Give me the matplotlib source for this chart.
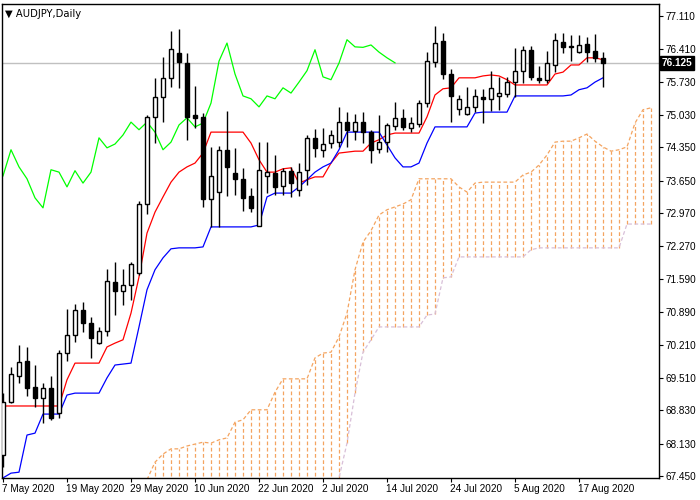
import numpy as np
import matplotlib
matplotlib.use("Agg")
import matplotlib.pyplot as plt
import matplotlib.transforms as mt

opens = [67.89,69.00,69.55,69.86,69.32,69.09,69.30,68.77,70.03,70.41,70.94,70.66,70.24,70.50,71.52,71.33,71.46,71.71,73.16,74.99,
         75.41,75.81,76.33,76.12,75.03,74.99,73.27,73.41,74.30,73.81,73.69,73.33,72.70,73.75,73.81,73.54,73.86,73.46,73.88,74.55,
         74.30,74.44,74.46,74.88,74.70,74.88,74.67,74.32,74.46,74.80,74.97,74.76,74.84,75.28,76.14,76.58,75.89,75.16,75.05,75.20,
         75.41,75.37,75.43,75.47,75.72,75.96,76.40,75.81,75.77,76.08,76.56,76.46,76.35,76.52,76.38,76.23]
highs = [69.19,69.74,70.20,70.16,69.78,69.40,69.55,70.10,70.96,71.06,71.10,70.79,70.58,71.80,71.94,71.80,71.94,73.22,75.03,75.81,
         76.25,76.80,76.84,76.33,75.64,75.07,74.36,74.38,75.12,74.34,73.92,73.50,74.46,74.46,74.19,73.92,73.94,74.02,74.61,74.74,
         74.76,74.72,75.20,75.09,75.05,75.09,74.72,75.03,74.86,75.30,75.16,74.99,75.35,76.35,76.90,76.75,75.99,75.45,75.62,75.58,
         75.58,75.96,75.83,75.83,76.44,76.48,76.48,76.06,76.38,76.75,76.75,76.71,76.71,76.67,76.73,76.35]
lows = [67.64,68.98,69.40,69.13,68.90,68.56,68.63,68.67,69.87,70.26,70.47,69.93,70.22,70.39,70.83,71.04,71.15,71.67,72.95,74.44,
        74.88,75.62,75.60,74.51,74.76,73.10,72.68,72.68,73.33,73.35,73.02,72.99,72.70,73.39,73.35,73.35,73.31,73.33,73.56,74.15,
        74.15,74.34,74.36,74.36,74.51,74.44,74.02,74.23,74.25,74.72,74.72,74.67,74.78,75.20,76.04,75.79,74.88,75.03,75.03,75.09,
        74.86,75.12,75.14,75.41,75.41,75.70,75.77,75.70,75.70,75.93,76.33,76.16,76.33,76.14,76.14,75.62]
closes = [69.00,69.59,69.84,69.30,69.09,69.30,68.67,70.03,70.41,70.94,70.66,70.35,70.50,71.55,71.33,71.46,71.90,73.16,74.99,75.41,
          75.81,76.42,76.14,74.99,74.97,73.27,73.75,74.30,73.94,73.69,73.29,73.08,73.88,73.83,73.52,73.86,73.60,73.83,74.55,74.34,
          74.42,74.61,74.88,74.72,74.88,74.67,74.30,74.46,74.82,74.97,74.78,74.86,75.28,76.16,76.54,75.89,75.43,75.37,75.20,75.43,
          75.37,75.60,75.49,75.72,75.96,76.40,75.83,75.77,76.12,76.61,76.46,76.45,76.50,76.35,76.23,76.125]
tenkan = [68.92]*8 + [69.47,69.82,69.82,69.82,69.82,70.16,70.24,70.31,70.87,71.63,72.55,72.99,73.31,73.62,73.83,73.94,74.02,74.23,
          74.67,74.67,74.67,74.67,74.67,74.44,74.09,73.83,73.83,73.90,73.92,73.60,73.67,73.73,73.73,74.02,74.23,74.25,74.27,74.27,
          74.44,74.51,74.61,74.65,74.65,74.65,74.65,74.99,75.45,75.58,75.60,75.81,75.81,75.81,75.85,75.87,75.85,75.77,75.66,75.66,
          75.66,75.66,75.66,75.89,75.93,76.08,76.08,76.23,76.23,76.19]
kijun = [67.41,67.51,67.53,68.31,68.35,68.75,68.75,68.75,69.15,69.19,69.19,69.19,69.19,69.51,69.78,69.80,69.82,70.58,71.36,71.78,
         72.03,72.22,72.24,72.24,72.24,72.26,72.68,72.68,72.68,72.68,72.68,72.68,72.72,73.31,73.39,73.39,73.39,73.52,73.67,73.83,
         73.94,74.02,74.30,74.67,74.67,74.67,74.67,74.67,74.40,74.13,73.94,73.94,74.02,74.44,74.78,74.78,74.78,74.78,74.78,75.07,
         75.09,75.09,75.09,75.09,75.43,75.43,75.43,75.43,75.43,75.43,75.43,75.45,75.56,75.60,75.72,75.81]
span_start = 18
span_a = [67.37,67.74,67.91,68.02,68.02,68.08,68.12,68.16,68.14,68.21,68.25,68.58,68.63,68.84,68.84,68.84,69.21,
          69.49,69.49,69.49,69.49,69.93,70.03,70.05,70.37,70.87,71.78,72.36,72.60,72.93,73.04,73.10,73.16,73.25,
          73.69,73.69,73.69,73.69,73.69,73.52,73.41,73.60,73.62,73.62,73.62,73.62,73.62,73.77,73.83,73.98,74.19,
          74.46,74.48,74.48,74.55,74.63,74.48,74.36,74.27,74.30,74.36,74.86,75.14,75.18]
span_b = [66.40]*22 + [66.50,66.70,67.41,68.14,69.19,70.05,70.31] + [70.58]*6 + [70.83,70.85,71.61,71.63] + [72.05]*9 + [72.20] + [72.24]*11 + [72.74]*4
chikou_shift = 26
last_price = 76.125
tick_labels = ["7 May 2020","19 May 2020","29 May 2020","10 Jun 2020","22 Jun 2020","2 Jul 2020",
               "14 Jul 2020","24 Jul 2020","5 Aug 2020","17 Aug 2020"]
yticks = [77.110,76.410,75.730,75.030,74.350,73.650,72.970,72.270,71.590,70.890,70.210,69.510,68.830,68.130,67.450]

plt.rcParams['font.family'] = ['Liberation Sans', 'DejaVu Sans']
FS = 7.2
fig = plt.figure(figsize=(7,5), dpi=100)
ax = fig.add_axes([2/700, 22/500, 657/700, 474/500])
ymin, ymax = 67.408, 77.36
ax.set_xlim(-0.125, 82)
ax.set_ylim(ymin, ymax)

n = len(closes)
x = np.arange(n)
xs = np.arange(span_start, span_start + len(span_a))
for xi, a, b in zip(xs, span_a, span_b):
    col = '#f4a460' if a >= b else '#d8bfd8'
    ax.vlines(xi, min(a,b), max(a,b), colors=col, linestyles=(0,(3,2)), lw=0.9, zorder=1)
ax.plot(xs, span_a, color='#f4a460', ls=(0,(3,2)), lw=0.9, zorder=1)
ax.plot(xs, span_b, color='#d8bfd8', ls=(0,(3,2)), lw=0.9, zorder=1)

ax.axhline(last_price, color='#c0c0c0', lw=1, zorder=1)

ch = closes[chikou_shift:]
ax.plot(np.arange(len(ch)), ch, color='#00ff00', lw=0.9, zorder=2)
ax.plot(x, tenkan, color='#ff0000', lw=0.9, zorder=2)
ax.plot(x, kijun, color='#0000ff', lw=0.9, zorder=2)

ax.vlines(x, lows, highs, colors='black', lw=1, zorder=3)
o = np.array(opens); c = np.array(closes)
bottom = np.minimum(o, c); h = np.maximum(np.abs(c - o), 0.02)
colors = ['white' if cc > oo else 'black' for oo, cc in zip(o, c)]
ax.bar(x, h, bottom=bottom, width=0.62, color=colors, edgecolor='black', lw=1, zorder=4)

ax.yaxis.tick_right()
ax.set_yticks(yticks)
ax.set_yticklabels([f"{v:.3f}" for v in yticks], fontsize=FS)
ax.set_xticks(np.arange(0, 80, 8))
ax.set_xticklabels(tick_labels, fontsize=FS, ha='left')
ax.tick_params(axis='x', length=3, pad=1)
ax.tick_params(axis='y', length=3, pad=2)
offset = mt.ScaledTranslation(-1/72, 0, fig.dpi_scale_trans)
for lbl in ax.get_xticklabels():
    lbl.set_transform(lbl.get_transform() + offset)
for s in ax.spines.values():
    s.set_linewidth(1)

ax.text(1.004, last_price, f"{last_price:.3f}", transform=ax.get_yaxis_transform(), fontsize=FS,
        color='white', fontweight='bold', va='center', ha='left',
        bbox=dict(boxstyle='square,pad=0.2', fc='black', ec='black'), zorder=10, clip_on=False)
ax.text(0.005, 0.99, "\u25BC AUDJPY,Daily", transform=ax.transAxes, fontsize=FS, va='top', ha='left',
        family=['DejaVu Sans'])

fig.savefig("out.png", dpi=100)
